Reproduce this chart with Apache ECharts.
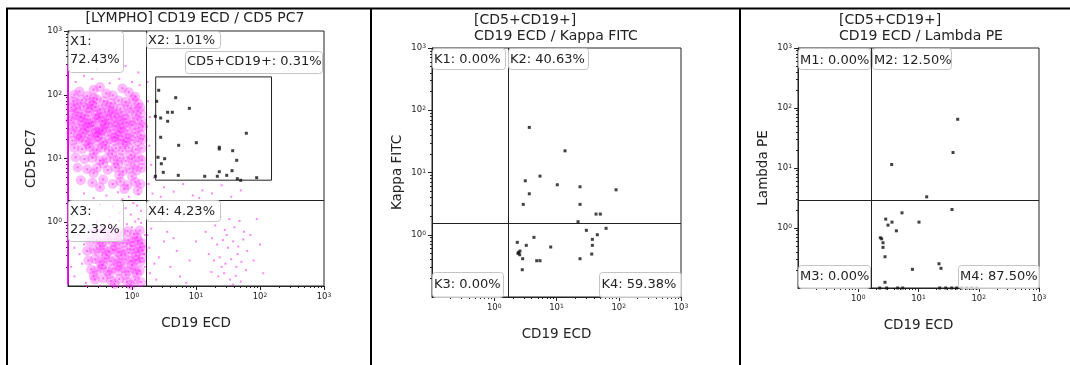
<!DOCTYPE html>
<html>
<head>
<meta charset="utf-8">
<script src="https://cdn.jsdelivr.net/npm/echarts@6/dist/echarts.min.js"></script>
<style>
  html, body { margin: 0; padding: 0; background: #fff; }
  #main { width: 1070px; height: 365px; }
</style>
</head>
<body>
<div id="main"></div>
<script>
// every value is log10 of the channel intensity, axes run 10^-1 .. 10^3
var cd19Cut = 0.223;
var cd5Cut = 0.35;
var kappaCut = 0.19;
var lambdaCut = 0.47;
var gateBox = [0.37, 0.66, 2.18, 2.28]; // CD5+CD19+ gate: x1, y1, x2, y2

// [LYMPHO] events, dense part of the two clouds
var lymphoCore = [
  [-0.82,2.05],[-0.6,2.08],[-0.4,2.02],[-0.15,2.1],[-0.7,1.98],[-0.3,1.99],[-0.05,2.04],[-0.9,2.0],[-0.5,2.12],[0.05,1.97],
  [-0.92,1.9],[-0.78,1.92],[-0.66,1.88],[-0.55,1.93],[-0.44,1.9],[-0.33,1.87],[-0.21,1.91],[-0.1,1.89],[0.02,1.93],[0.1,1.86],[-0.6,1.95],[-0.85,1.86],
  [-0.95,1.8],[-0.87,1.78],[-0.76,1.82],[-0.69,1.79],[-0.58,1.81],[-0.5,1.77],[-0.41,1.83],[-0.29,1.8],[-0.18,1.78],[-0.07,1.82],[0.04,1.79],[0.13,1.8],[-0.62,1.84],[-0.36,1.75],
  [-0.93,1.7],[-0.84,1.72],[-0.74,1.68],[-0.66,1.73],[-0.57,1.69],[-0.48,1.71],[-0.39,1.67],[-0.31,1.72],[-0.22,1.7],[-0.13,1.68],[-0.04,1.73],[0.06,1.69],[0.14,1.71],[-0.8,1.65],[-0.52,1.64],[-0.27,1.65],
  [-0.96,1.6],[-0.88,1.62],[-0.79,1.58],[-0.71,1.61],[-0.63,1.57],[-0.55,1.62],[-0.46,1.59],[-0.37,1.61],[-0.28,1.57],[-0.19,1.6],[-0.1,1.62],[-0.02,1.58],[0.08,1.61],[0.16,1.59],[-0.67,1.55],[-0.42,1.54],[-0.15,1.55],
  [-0.94,1.5],[-0.86,1.48],[-0.77,1.52],[-0.69,1.49],[-0.6,1.51],[-0.51,1.47],[-0.43,1.52],[-0.34,1.49],[-0.25,1.51],[-0.17,1.47],[-0.08,1.5],[0.01,1.52],[0.1,1.48],[0.17,1.5],[-0.73,1.45],[-0.47,1.44],[-0.21,1.43],[-0.56,1.42],
  [-0.95,1.4],[-0.85,1.38],[-0.76,1.41],[-0.67,1.37],[-0.58,1.4],[-0.49,1.38],[-0.4,1.42],[-0.31,1.39],[-0.22,1.36],[-0.13,1.41],[-0.04,1.38],[0.05,1.4],[0.14,1.37],[-0.8,1.33],[-0.53,1.34],[-0.27,1.33],[-0.09,1.32],
  [-0.93,1.28],[-0.83,1.3],[-0.72,1.27],[-0.63,1.3],[-0.54,1.28],[-0.45,1.26],[-0.36,1.3],[-0.27,1.27],[-0.18,1.29],[-0.09,1.26],[0.0,1.29],[0.09,1.27],[0.17,1.3],[-0.68,1.22],[-0.41,1.21],[-0.14,1.22],
  [-0.9,1.17],[-0.78,1.15],[-0.66,1.18],[-0.55,1.14],[-0.47,1.17],[-0.36,1.13],[-0.25,1.16],[-0.15,1.12],[-0.05,1.17],[0.06,1.14],[0.15,1.16],[-0.6,1.08],[-0.31,1.07],[-0.02,1.06],
  [-0.88,1.02],[-0.74,0.99],[-0.62,1.01],[-0.5,0.97],[-0.4,1.0],[-0.28,0.98],[-0.19,1.01],[-0.1,0.96],[0.0,0.99],[0.1,1.02],[0.16,0.97],[-0.45,0.92],[-0.22,0.91],[0.04,0.9],
  [-0.85,0.86],[-0.7,0.83],[-0.55,0.85],[-0.38,0.82],[-0.26,0.86],[-0.14,0.8],[-0.04,0.84],[0.07,0.81],[0.15,0.85],[-0.6,0.77],[-0.2,0.74],[0.0,0.72],
  [-0.8,0.66],[-0.62,0.62],[-0.45,0.67],[-0.3,0.6],[-0.18,0.64],[-0.07,0.58],[0.05,0.63],[0.13,0.6],[-0.5,0.55],[-0.12,0.52],[0.09,0.5],
  [-0.6,-0.15],[-0.48,-0.13],[-0.37,-0.17],[-0.27,-0.12],[-0.17,-0.16],[-0.07,-0.14],[0.03,-0.18],[0.12,-0.13],[-0.22,-0.22],[0.08,-0.24],
  [-0.66,-0.3],[-0.55,-0.28],[-0.46,-0.32],[-0.38,-0.27],[-0.3,-0.31],[-0.22,-0.29],[-0.14,-0.33],[-0.06,-0.28],[0.02,-0.31],[0.1,-0.29],[0.16,-0.33],[-0.5,-0.37],[-0.26,-0.38],[-0.02,-0.37],[0.13,-0.39],
  [-0.7,-0.45],[-0.6,-0.43],[-0.52,-0.47],[-0.44,-0.42],[-0.36,-0.46],[-0.29,-0.43],[-0.21,-0.47],[-0.13,-0.44],[-0.05,-0.48],[0.03,-0.43],[0.1,-0.46],[0.17,-0.44],[-0.4,-0.51],[-0.17,-0.52],[0.06,-0.53],
  [-0.68,-0.6],[-0.58,-0.58],[-0.5,-0.62],[-0.42,-0.57],[-0.34,-0.61],[-0.26,-0.59],[-0.18,-0.63],[-0.1,-0.58],[-0.02,-0.61],[0.06,-0.59],[0.13,-0.62],[-0.46,-0.67],[-0.22,-0.68],[0.0,-0.67],[0.16,-0.56],
  [-0.64,-0.74],[-0.55,-0.76],[-0.47,-0.72],[-0.38,-0.77],[-0.3,-0.73],[-0.21,-0.76],[-0.13,-0.72],[-0.05,-0.77],[0.04,-0.74],[0.12,-0.76],[-0.35,-0.82],[-0.1,-0.83],[0.08,-0.81],[-0.6,-0.84],
  [-0.58,-0.9],[-0.45,-0.88],[-0.33,-0.92],[-0.2,-0.89],[-0.08,-0.93],[0.05,-0.9],[0.14,-0.94],[-0.27,-0.97],[-0.02,-0.98]
];

// [LYMPHO] events, thin halo and scattered cells
var lymphoSparse = [
  [-0.75,2.3],[-0.2,2.25],[-0.55,2.4],[0.1,2.35],[-0.35,2.18],[-0.88,2.2],[0.0,2.2],[-0.62,2.25],[-0.1,2.45],[0.12,2.15],
  [-0.75,0.45],[-0.4,0.42],[-0.22,0.47],[-0.05,0.4],[0.1,0.44],[-0.6,0.38],[-0.15,0.36],[0.02,0.3],
  [-0.5,0.28],[-0.3,0.25],[-0.1,0.22],[0.08,0.26],[-0.7,0.2],[0.14,0.18],[-0.2,0.15],[-0.02,0.12],[0.1,0.05],[-0.35,0.08],
  [-0.55,0.0],[-0.35,-0.02],[-0.2,0.02],[-0.08,-0.03],[0.05,0.01],[0.14,-0.01],[-0.45,-0.06],[0.0,-0.08],[-0.8,-0.05],
  [-0.85,-0.2],[-0.75,-0.35],[-0.82,-0.5],[-0.78,-0.65],[-0.72,-0.95],
  [-0.9,-0.4],[-0.95,-0.7],[-0.88,-0.1],[-0.92,0.1],[0.2,-0.2],[0.2,-0.7],[0.19,-0.5],[-0.9,-0.85],
  [-0.5,-1],[-0.3,-1],[-0.15,-1],[0.0,-1],[0.1,-1],[-0.7,-1],
  [0.25,0.2],[0.3,-0.1],[0.27,-0.4],[0.35,-0.65],[0.45,0.05],[0.5,-0.3],[0.28,-0.8],[0.42,-0.55],[0.55,-0.15],[0.33,0.25],[0.6,-0.7],
  [0.38,-0.9],[0.48,0.15],[0.24,-0.2],[0.7,-0.45],[0.8,0.1],[0.9,-0.6],[0.75,-0.85],[1.0,-0.3],[1.05,0.2],[0.65,-0.25],[0.85,-0.95],
  [1.22,0.1],[1.3,-0.05],[1.38,0.08],[1.45,-0.12],[1.52,0.05],[1.6,-0.08],[1.68,0.02],[1.75,-0.15],[1.25,-0.25],[1.33,-0.35],
  [1.42,-0.28],[1.5,-0.4],[1.58,-0.3],[1.66,-0.38],[1.74,-0.27],[1.8,-0.45],[1.2,-0.5],[1.28,-0.6],[1.37,-0.55],[1.46,-0.65],
  [1.55,-0.58],[1.63,-0.7],[1.71,-0.62],[1.78,-0.75],[1.24,-0.78],[1.35,-0.85],[1.44,-0.8],[1.53,-0.9],[1.62,-0.84],[1.7,-0.93],
  [1.58,-0.98],[1.48,-0.2],[1.65,-0.5],[1.4,-0.7],[1.85,-0.2],[1.9,-0.6],[2.0,-0.35],[1.95,0.05],[2.05,-0.8],[1.15,-0.15],
  [0.25,1.9],[0.23,1.5],[0.27,1.2],[0.24,2.2],[0.3,0.9],[0.26,0.6],[0.32,0.45],[0.5,0.55],[0.65,0.48],[0.8,0.6],
  [0.95,0.42],[1.1,0.5],[1.25,0.45],[1.4,0.58],[1.55,0.4],[1.7,0.5],[0.45,0.4],[1.05,0.38],[0.28,1.65],[0.35,0.7]
];

// [LYMPHO] events piled on the lowest CD19 channel
var lymphoEdgeCD5 = [
  2.43,2.36,2.29,2.21,2.15,2.07,2.0,1.93,1.86,1.78,1.72,1.64,1.57,1.5,1.42,1.35,1.28,1.2,1.13,1.06,
  0.98,0.91,0.84,0.76,0.69,0.62,0.54,0.47,0.4,0.32,0.25,0.18,0.1,0.03,-0.04,-0.12,-0.19,-0.27,-0.34,-0.41,
  -0.49,-0.56,-0.63,-0.71,-0.78,-0.86,-0.93
];

// CD5+CD19+ gated events on CD19 / CD5
var gatedCells = [
  [0.417,2.07],[0.683,1.954],[0.386,1.897],[0.896,1.787],[0.557,1.725],[0.63,1.725],[0.365,1.662],[0.448,1.635],
  [0.557,1.584],[1.786,1.396],[0.448,1.333],[1.005,1.248],[0.729,1.207],[1.364,1.176],[1.364,1.149],[1.573,1.122],
  [1.636,0.972],[0.406,1.019],[0.51,0.997],[0.458,0.918],[0.489,0.783],[0.723,0.736],[0.365,0.721],[1.136,0.721],
  [1.333,0.721],[1.364,0.793],[1.48,0.736],[1.563,0.809],[1.646,0.683],[1.698,0.658],[1.948,0.699]
];

// CD5+CD19+ events on CD19 / Kappa
var kappaCells = [
  [0.563,1.724],[1.137,1.348],[0.735,0.942],[0.499,0.867],[1.013,0.803],[1.378,0.771],[1.957,0.722],[0.563,0.658],
  [0.466,0.488],[1.378,0.488],[1.635,0.332],[1.704,0.332],[1.346,0.209],
  [1.48,0.071],[1.796,0.103],[1.656,0.0],[1.576,-0.074],[1.576,-0.17],[1.566,-0.31],[1.378,-0.385],[0.638,-0.042],
  [0.37,-0.122],[0.515,-0.17],[0.907,-0.197],[0.413,-0.262],[0.381,-0.299],[0.408,-0.321],[0.456,-0.385],
  [0.682,-0.417],[0.735,-0.417],[0.45,-0.562],[0.392,-0.283]
];

// CD5+CD19+ events on CD19 / Lambda
var lambdaCells = [
  [1.651,1.812],[1.573,1.258],[0.555,1.058],[1.136,0.519],
  [1.556,0.309],[0.726,0.253],[0.456,0.148],[0.56,0.098],[1.008,0.098],[0.494,0.048],[0.633,-0.047],[0.367,-0.163],
  [0.389,-0.18],[0.411,-0.246],[0.411,-0.323],[0.444,-0.479],[1.34,-0.596],[1.373,-0.672],[0.899,-0.689],[0.444,-0.905],
  [0.356,-1],[0.472,-1],[0.655,-1],[0.738,-1],[1.352,-1],[1.452,-1],[1.551,-1],[1.634,-1],[1.717,-1],[1.8,-1],[1.883,-1],[1.966,-1]
];

var majorTicks = [0, 1, 2, 3];
var tickExp = ['0', '1', '2', '3'];
var minorTicks = [];
[-1, 0, 1, 2].forEach(function (d) {
  for (var k = 2; k <= 9; k++) minorTicks.push(d + Math.log10(k));
});

var FONT = 'DejaVu Sans';
var INK = '#222';

var grids = [
  { left: 68, top: 31, width: 256, height: 255 },
  { left: 432, top: 48, width: 249, height: 249 },
  { left: 798, top: 48, width: 241, height: 240 }
];
var yNames = ['CD5 PC7', 'Kappa FITC', 'Lambda PE'];
var xGap = [30, 30.5, 30];
var yGap = [30, 28, 28];

function mainAxis(i, pos, name, gap) {
  return {
    type: 'value', gridIndex: i, position: pos, min: -1, max: 3,
    name: name, nameLocation: 'middle', nameGap: gap,
    nameTextStyle: { fontFamily: FONT, fontSize: 13.5, color: INK },
    axisLine: { show: true, onZero: false, lineStyle: { color: INK, width: 1 } },
    axisTick: { show: true, customValues: majorTicks, length: 4, lineStyle: { color: INK } },
    axisLabel: {
      customValues: majorTicks,
      formatter: function (v) { return '{b|10}{s|' + tickExp[Math.round(v)] + '}'; },
      color: INK, margin: 6,
      rich: {
        b: { fontFamily: FONT, fontSize: 8.5, color: INK },
        s: { fontFamily: FONT, fontSize: 6, color: INK, verticalAlign: 'top' }
      }
    },
    splitLine: { show: false }
  };
}
function minorAxis(i, pos) {
  return {
    type: 'value', gridIndex: i, position: pos, min: -1, max: 3,
    axisLine: { show: false, onZero: false },
    axisTick: { show: true, customValues: minorTicks, length: 2, lineStyle: { color: INK } },
    axisLabel: { show: false },
    splitLine: { show: false }
  };
}

var xAxis = [], yAxis = [];
grids.forEach(function (g, i) {
  xAxis.push(mainAxis(i, 'bottom', 'CD19 ECD', xGap[i]));
  xAxis.push(minorAxis(i, 'bottom'));
  yAxis.push(mainAxis(i, 'left', yNames[i], yGap[i]));
  yAxis.push(minorAxis(i, 'left'));
});

function cuts(xv, yv) {
  return {
    silent: true, symbol: ['none', 'none'], animation: false,
    label: { show: false },
    lineStyle: { color: INK, width: 1, type: 'solid' },
    data: [{ xAxis: xv }, { yAxis: yv }]
  };
}

var series = [
  {
    // soft density cloud
    type: 'scatter', xAxisIndex: 0, yAxisIndex: 0, symbol: 'circle', symbolSize: 10,
    itemStyle: { color: 'rgba(255,0,255,0.32)' },
    data: lymphoCore
  },
  {
    // the same events as fine dots
    type: 'scatter', xAxisIndex: 0, yAxisIndex: 0, symbol: 'rect', symbolSize: 2,
    itemStyle: { color: 'rgba(255,0,255,0.55)' }, data: lymphoCore
  },
  {
    type: 'scatter', xAxisIndex: 0, yAxisIndex: 0, symbol: 'rect', symbolSize: 2,
    itemStyle: { color: 'rgba(255,0,255,0.6)' }, data: lymphoSparse
  },
  {
    type: 'scatter', xAxisIndex: 0, yAxisIndex: 0, symbol: 'rect', symbolSize: [2, 6],
    itemStyle: { color: '#ff00ff' },
    data: lymphoEdgeCD5.map(function (y) { return [-1, y]; })
  },
  {
    type: 'scatter', xAxisIndex: 0, yAxisIndex: 0, symbol: 'rect', symbolSize: 3,
    itemStyle: { color: '#111' }, data: gatedCells,
    markLine: cuts(cd19Cut, cd5Cut),
    markArea: {
      silent: true,
      itemStyle: { color: 'rgba(0,0,0,0)', borderColor: INK, borderWidth: 1 },
      data: [[{ coord: [gateBox[0], gateBox[1]] }, { coord: [gateBox[2], gateBox[3]] }]]
    }
  },
  {
    type: 'scatter', xAxisIndex: 2, yAxisIndex: 2, symbol: 'rect', symbolSize: 3,
    itemStyle: { color: '#111' }, data: kappaCells,
    markLine: cuts(cd19Cut, kappaCut)
  },
  {
    type: 'scatter', xAxisIndex: 4, yAxisIndex: 4, symbol: 'rect', symbolSize: 3,
    itemStyle: { color: '#111' }, data: lambdaCells,
    markLine: cuts(cd19Cut, lambdaCut)
  }
];

// region labels: box [x, y, w, h], text start and vertical centre
var regionLabels = [
  { box: [68, 31, 55, 41], text: 'X1:\n72.43%', x: 70, y: 50.5 },
  { box: [146, 31, 74, 17], text: 'X2: 1.01%', x: 148, y: 40.5 },
  { box: [185, 51, 137, 22], text: 'CD5+CD19+: 0.31%', x: 187, y: 61.8 },
  { box: [68, 200, 55, 41], text: 'X3:\n22.32%', x: 70, y: 221 },
  { box: [146, 200, 74, 21], text: 'X4: 4.23%', x: 148, y: 211.8 },
  { box: [432, 48, 73, 21], text: 'K1: 0.00%', x: 434, y: 60 },
  { box: [508, 48, 80, 21], text: 'K2: 40.63%', x: 510, y: 60 },
  { box: [432, 272, 71, 25], text: 'K3: 0.00%', x: 434, y: 284.7 },
  { box: [599, 272, 82, 25], text: 'K4: 59.38%', x: 601.5, y: 284.7 },
  { box: [798, 48, 72, 21], text: 'M1: 0.00%', x: 800, y: 60.3 },
  { box: [872, 48, 79, 21], text: 'M2: 12.50%', x: 874, y: 60.3 },
  { box: [798, 265, 72, 23], text: 'M3: 0.00%', x: 800, y: 276.2 },
  { box: [958, 265, 81, 23], text: 'M4: 87.50%', x: 960, y: 276.2 }
];

var graphic = [];
// table frame around the three plots
[[6, 8.5, 1070, 8.5], [7, 8, 7, 365], [371, 8, 371, 365], [740, 8, 740, 365]].forEach(function (l) {
  graphic.push({ type: 'line', silent: true, shape: { x1: l[0], y1: l[1], x2: l[2], y2: l[3] },
    style: { stroke: '#000', lineWidth: 2 } });
});
graphic.push({ type: 'text', x: 195, y: 18.3, silent: true,
  style: { text: '[LYMPHO] CD19 ECD / CD5 PC7', font: '14px ' + FONT, fill: INK, align: 'center', verticalAlign: 'middle' } });
graphic.push({ type: 'text', x: 474, y: 28.3, silent: true,
  style: { text: '[CD5+CD19+]\nCD19 ECD / Kappa FITC', font: '14px ' + FONT, fill: INK, lineHeight: 16.7, align: 'left', verticalAlign: 'middle' } });
graphic.push({ type: 'text', x: 839, y: 28.3, silent: true,
  style: { text: '[CD5+CD19+]\nCD19 ECD / Lambda PE', font: '14px ' + FONT, fill: INK, lineHeight: 16.7, align: 'left', verticalAlign: 'middle' } });
regionLabels.forEach(function (r) {
  graphic.push({ type: 'rect', silent: true, z: 100,
    shape: { x: r.box[0] + 0.5, y: r.box[1] + 0.5, width: r.box[2], height: r.box[3], r: 3 },
    style: { fill: 'rgba(255,255,255,0.75)', stroke: '#c4c4c4', lineWidth: 1 } });
  graphic.push({ type: 'text', silent: true, z: 101, x: r.x, y: r.y,
    style: { text: r.text, font: '13px ' + FONT, fill: INK, lineHeight: 18, align: 'left', verticalAlign: 'middle' } });
});

var chart = echarts.init(document.getElementById('main'));
chart.setOption({
  animation: false,
  grid: grids.map(function (g) {
    return { left: g.left, top: g.top, width: g.width, height: g.height, show: true, borderColor: INK, borderWidth: 1, backgroundColor: 'rgba(0,0,0,0)' };
  }),
  xAxis: xAxis,
  yAxis: yAxis,
  series: series,
  graphic: graphic
});
</script>
</body>
</html>
